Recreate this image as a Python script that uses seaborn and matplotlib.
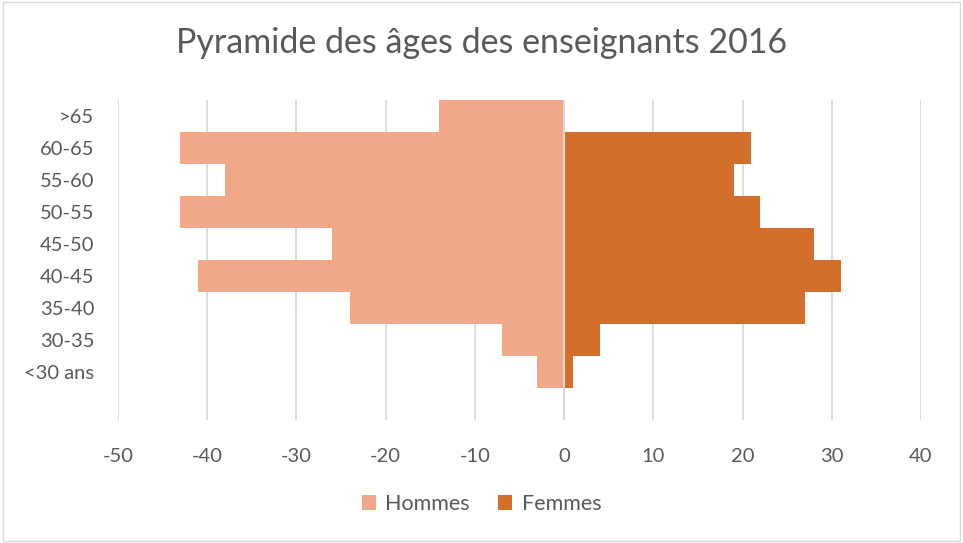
import pandas as pd
import numpy as np
import seaborn as sns
import matplotlib.pyplot as plt
from matplotlib.patches import Rectangle

ages = ['>65', '60-65', '55-60', '50-55', '45-50', '40-45', '35-40', '30-35', '<30 ans']
hommes = [-14, -43, -38, -43, -26, -41, -24, -7, -3]
femmes = [0, 21, 19, 22, 28, 31, 27, 4, 1]
xticks = [-50, -40, -30, -20, -10, 0, 10, 20, 30, 40]

df = pd.DataFrame({'Age': ages * 2,
                   'Effectif': hommes + femmes,
                   'Sexe': ['Hommes'] * len(ages) + ['Femmes'] * len(ages)})

sns.set_style('white')
plt.rcParams['font.family'] = ['Lato', 'DejaVu Sans']
txt = '#595959'

fig = plt.figure(figsize=(9.63, 5.43), dpi=100)
ax = fig.add_axes([0.1225, 0.2265, 0.8339, 0.5893])

sns.barplot(data=df, x='Effectif', y='Age', hue='Sexe', order=ages,
            palette={'Hommes': '#F1A889', 'Femmes': '#D36F2A'},
            dodge=False, width=1.0, orient='h', saturation=1, ax=ax,
            linewidth=0, edgecolor='none', zorder=2)

ax.set_xlim(-50, 40)
ax.set_ylim(9.5, -0.5)
ax.set_xticks(xticks)
ax.set_xticklabels([str(v) for v in xticks])
ax.grid(axis='x', color='#d9d9d9', linewidth=1.2, zorder=0)
ax.axvline(0, color='#d9d9d9', linewidth=1.5, zorder=3)
for s in ax.spines.values():
    s.set_visible(False)
ax.tick_params(axis='both', length=0, labelsize=14.5, labelcolor=txt)
ax.tick_params(axis='x', pad=20)
ax.tick_params(axis='y', pad=17)
ax.set_xlabel('')
ax.set_ylabel('')

fig.suptitle('Pyramide des âges des enseignants 2016', y=0.95, fontsize=24.5, color=txt)

handles, labels = ax.get_legend_handles_labels()
ax.legend_.remove()
fig.legend(handles, labels, loc='center', bbox_to_anchor=(0.5, 0.072), ncol=2,
           frameon=False, fontsize=15.5, labelcolor=txt, handlelength=0.65,
           handleheight=0.65, handletextpad=0.45, columnspacing=1.3)

fig.patches.append(Rectangle((0.003, 0.003), 0.994, 0.994, transform=fig.transFigure,
                             fill=False, edgecolor='#d9d9d9', linewidth=1))

fig.savefig('out.png', dpi=100)
